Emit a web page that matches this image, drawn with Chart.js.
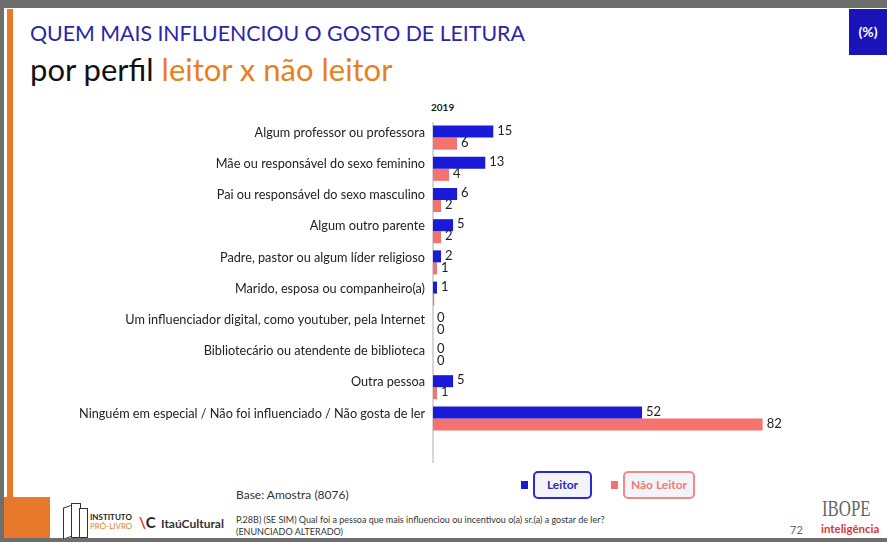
<!DOCTYPE html>
<html>
<head>
<meta charset="utf-8">
<script src="https://cdn.jsdelivr.net/npm/chart.js@4.4.1/dist/chart.umd.min.js"></script>
<style>
  html, body { margin: 0; padding: 0; }
  body { width: 887px; height: 542px; position: relative; overflow: hidden; background: #6e6e6e; font-family: Lato, "Open Sans", sans-serif; }
  #slide { position: absolute; left: 4px; top: 8px; width: 883px; height: 530px; background: #fff; }
  .abs { position: absolute; white-space: nowrap; }
  #chartBox { position: absolute; left: 0; top: 0; width: 887px; height: 542px; }
  .legBox { position: absolute; top: 471px; height: 24px; border: 2px solid; border-radius: 5px; background: #f4f4f8;
            font-size: 12px; font-weight: bold; line-height: 24px; text-align: center; }
  .legSq { position: absolute; top: 481px; width: 7px; height: 8px; }
  .book { position: absolute; border: 1.5px solid #333; background: #fff; }
</style>
</head>
<body>
<div id="slide"></div>
<div class="abs" style="left:7px;top:9px;width:6px;height:490px;background:#e8792b;"></div>
<div class="abs" style="left:4px;top:497px;width:46px;height:41px;background:#e8792b;"></div>
<div class="abs" style="left:849px;top:9px;width:38px;height:46px;background:#1a14b8;color:#fff;font-weight:bold;font-size:14px;line-height:46px;text-align:center;">(%)</div>

<div class="abs" style="left:30px;top:20px;font-size:21.3px;color:#2b25a8;">QUEM MAIS INFLUENCIOU O GOSTO DE LEITURA</div>
<div class="abs" style="left:30px;top:50px;font-size:31px;color:#111;">por perfil <span style="color:#e8801c;">leitor x não leitor</span></div>
<div class="abs" style="left:431px;top:101px;font-size:10px;font-weight:bold;color:#222;">2019</div>

<div class="legSq" style="left:521px;background:#1a1ad9;"></div>
<div class="legBox" style="left:533px;width:55px;border-color:#2a2ad0;color:#2a2ab8;">Leitor</div>
<div class="legSq" style="left:611px;background:#f4736e;"></div>
<div class="legBox" style="left:623px;width:68px;border-color:#f08a88;color:#ee7b78;">Não Leitor</div>

<div class="abs" style="left:236px;top:487px;font-size:12px;color:#333;">Base: Amostra (8076)</div>
<div class="abs" style="left:236px;top:514px;font-size:9px;line-height:12px;color:#333;">P.28B) (SE SIM) Qual foi a pessoa que mais influenciou ou incentivou o(a) sr.(a) a gostar de ler?<br>(ENUNCIADO ALTERADO)</div>

<div class="book" style="left:63px;top:506px;width:8px;height:30px;transform:skewY(-20deg);"></div>
<div class="book" style="left:71px;top:503px;width:8px;height:33px;"></div>
<div class="book" style="left:79px;top:508px;width:7px;height:28px;"></div>
<div class="abs" style="left:90px;top:513px;font-size:8px;font-weight:bold;color:#222;line-height:9px;">INSTITUTO<br><span style="color:#e8801c;font-weight:normal;">PRÓ-LIVRO</span></div>
<div class="abs" style="left:139px;top:513px;font-size:15px;font-weight:bold;color:#222;"><span style="color:#e0301e;">\</span>C</div>
<div class="abs" style="left:161px;top:516px;font-size:12px;font-weight:bold;color:#333;">ItaúCultural</div>

<div class="abs" style="left:822px;top:495px;font-size:24px;font-family:'Liberation Serif','DejaVu Serif',serif;color:#666;transform:scaleX(0.7);transform-origin:left top;">IBOPE</div>
<div class="abs" style="left:790px;top:523px;font-size:11px;color:#666;">72</div>
<div class="abs" style="left:821px;top:522px;font-size:11.5px;font-weight:bold;color:#d8393b;">inteligência</div>

<div id="chartBox"><canvas id="chart"></canvas></div>

<script>
const categories = [
    'Algum professor ou professora',
    'Mãe ou responsável do sexo feminino',
    'Pai ou responsável do sexo masculino',
    'Algum outro parente',
    'Padre, pastor ou algum líder religioso',
    'Marido, esposa ou companheiro(a)',
    'Um influenciador digital, como youtuber, pela Internet',
    'Bibliotecário ou atendente de biblioteca',
    'Outra pessoa',
    'Ninguém em especial / Não foi influenciado / Não gosta de ler'
];
const leitor = [15, 13, 6, 5, 2, 1, 0, 0, 5, 52];
const naoLeitor = [6, 4, 2, 2, 1, 0.3, 0, 0, 1, 82];

// draws the numbers next to the bars
const valueLabels = {
    id: 'valueLabels',
    afterDatasetsDraw(chart) {
        const ctx = chart.ctx;
        ctx.save();
        ctx.font = '13px Lato, "Open Sans", sans-serif';
        ctx.fillStyle = '#222';
        ctx.textAlign = 'left';
        ctx.textBaseline = 'middle';
        chart.data.datasets.forEach((ds, i) => {
            chart.getDatasetMeta(i).data.forEach((bar, j) => {
                const v = ds.data[j];
                if (v > 0 && v < 0.5) return;
                ctx.fillText(Math.round(v), bar.x + 4, bar.y - 1);
            });
        });
        ctx.restore();
    }
};

// vertical axis line, runs a bit below the plot like in the slide
const axisLine = {
    id: 'axisLine',
    beforeDatasetsDraw(chart) {
        const ctx = chart.ctx;
        const a = chart.chartArea;
        ctx.save();
        ctx.strokeStyle = '#c8c8c8';
        ctx.lineWidth = 1.5;
        ctx.beginPath();
        ctx.moveTo(a.left, a.top);
        ctx.lineTo(a.left, a.bottom + 29);
        ctx.stroke();
        ctx.restore();
    }
};

new Chart(document.getElementById('chart'), {
    type: 'bar',
    data: {
        labels: categories,
        datasets: [
            { label: 'Leitor', data: leitor, backgroundColor: '#1a1ad9' },
            { label: 'Não Leitor', data: naoLeitor, backgroundColor: '#f4736e' }
        ]
    },
    options: {
        indexAxis: 'y',
        responsive: true,
        maintainAspectRatio: false,
        animation: false,
        categoryPercentage: 0.77,
        barPercentage: 1,
        layout: { padding: { top: 122, bottom: 108, right: 52, left: 0 } },
        scales: {
            x: { display: false, min: 0, max: 100 },
            y: {
                afterFit(scale) { scale.width = 433; },
                border: { display: false },
                grid: { display: false, drawTicks: false },
                ticks: {
                    padding: 8,
                    labelOffset: -5,
                    color: '#222',
                    font: { family: 'Lato, "Open Sans", sans-serif', size: 12.7 }
                }
            }
        },
        plugins: {
            legend: { display: false },
            tooltip: { enabled: false }
        }
    },
    plugins: [axisLine, valueLabels]
});
</script>
</body>
</html>
